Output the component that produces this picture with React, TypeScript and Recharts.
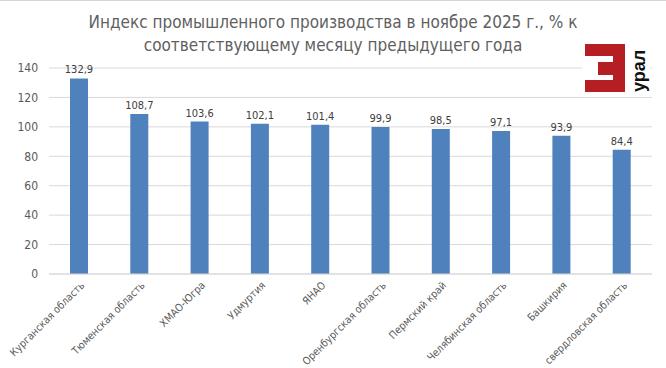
import { BarChart, Bar, XAxis, YAxis, CartesianGrid, LabelList } from "recharts";

const regions = [
  "Курганская область",
  "Тюменская область",
  "ХМАО-Югра",
  "Удмуртия",
  "ЯНАО",
  "Оренбургская область",
  "Пермский край",
  "Челябинская область",
  "Башкирия",
  "свердловская область",
];
const values = [132.9, 108.7, 103.6, 102.1, 101.4, 99.9, 98.5, 97.1, 93.9, 84.4];
const yTicks = [0, 20, 40, 60, 80, 100, 120, 140];

const data = regions.map((name, i) => ({ name, value: values[i] }));

const FONT = "'Liberation Sans Narrow', 'DejaVu Sans Condensed', sans-serif";

const RegionTick = (props: any) => {
  const { x, y, payload } = props;
  return (
    <g transform={`translate(${x + 6},${y + 4})`}>
      <text
        transform="rotate(-45)"
        textAnchor="end"
        fontSize={10.5}
        fontFamily={FONT}
        fill="#595959"
      >
        {payload.value}
      </text>
    </g>
  );
};

function Logo() {
  return (
    <svg
      width={68}
      height={56}
      style={{ position: "absolute", left: 582, top: 40 }}
    >
      <rect x={0} y={0} width={68} height={56} fill="#fff" />
      <path
        d="M3 3 H43 V51 H3 V39 H31 V34 H16 V21 H31 V15 H3 Z"
        fill="#b51f24"
      />
      <text
        transform="translate(63,51) rotate(-90)"
        fontSize={18}
        fontWeight="bold"
        fontFamily="'Liberation Sans', sans-serif"
        fill="#111"
      >
        урал
      </text>
    </svg>
  );
}

export default function App() {
  return (
    <div
      style={{
        position: "fixed",
        left: 0,
        top: 0,
        width: 666,
        height: 368,
        background: "#fff",
        borderTop: "1px solid #d6d6d6",
        boxSizing: "border-box",
        overflow: "hidden",
      }}
    >
      <div
        style={{
          position: "absolute",
          left: 0,
          top: 10,
          width: 666,
          textAlign: "center",
          fontFamily: FONT,
          fontSize: 17,
          lineHeight: "23px",
          color: "#5f5f5f",
        }}
      >
        Индекс промышленного производства в ноябре 2025 г., % к
        <br />
        соответствующему месяцу предыдущего года
      </div>
      <div style={{ position: "absolute", left: 0, top: -1 }}>
        <BarChart
          width={666}
          height={368}
          data={data}
          margin={{ top: 68, right: 14, bottom: 4, left: 9 }}
        >
          <CartesianGrid vertical={false} stroke="#d9d9d9" />
          <XAxis
            dataKey="name"
            interval={0}
            height={90}
            tickLine={false}
            axisLine={{ stroke: "#d9d9d9" }}
            tick={<RegionTick />}
          />
          <YAxis
            width={40}
            domain={[0, 140]}
            ticks={yTicks}
            axisLine={false}
            tickLine={false}
            tickMargin={5}
            tick={{ fontSize: 12, fill: "#595959", fontFamily: FONT }}
          />
          <Bar dataKey="value" fill="#4f81bd" barSize={18} isAnimationActive={false}>
            <LabelList
              dataKey="value"
              position="top"
              offset={5}
              formatter={(v: any) => String(v).replace(".", ",")}
              style={{ fontSize: 11, fill: "#404040", fontFamily: FONT }}
            />
          </Bar>
        </BarChart>
      </div>
      <Logo />
    </div>
  );
}
